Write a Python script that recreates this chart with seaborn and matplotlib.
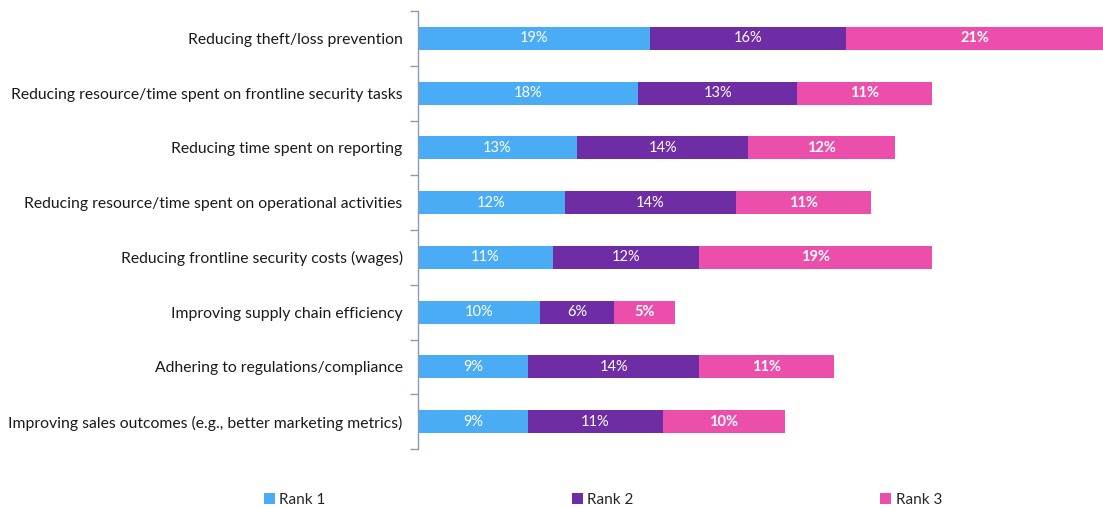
import matplotlib
matplotlib.use("Agg")
import matplotlib.pyplot as plt
from matplotlib.patches import Patch
import numpy as np
import pandas as pd
import seaborn as sns

categories = [
    "Reducing theft/loss prevention",
    "Reducing resource/time spent on frontline security tasks",
    "Reducing time spent on reporting",
    "Reducing resource/time spent on operational activities",
    "Reducing frontline security costs (wages)",
    "Improving supply chain efficiency",
    "Adhering to regulations/compliance",
    "Improving sales outcomes (e.g., better marketing metrics)",
]
rank1 = [19, 18, 13, 12, 11, 10, 9, 9]
rank2 = [16, 13, 14, 14, 12, 6, 14, 11]
rank3 = [21, 11, 12, 11, 19, 5, 11, 10]
series_names = ["Rank 1", "Rank 2", "Rank 3"]
colors = ["#4BACF6", "#6E2CA5", "#EB4FAB"]

sns.set_theme(style="white")
plt.rcParams["font.family"] = ["Lato", "DejaVu Sans"]

fig = plt.figure(figsize=(11.03, 5.08), dpi=100)
ax = fig.add_axes([418 / 1103, 59 / 508, 685 / 1103, 438 / 508])

r1 = np.array(rank1)
r2 = np.array(rank2)
r3 = np.array(rank3)
stacks = [r1 + r2 + r3, r1 + r2, r1]
stack_colors = [colors[2], colors[1], colors[0]]
for vals, col in zip(stacks, stack_colors):
    df = pd.DataFrame({"cat": categories, "val": vals})
    sns.barplot(data=df, y="cat", x="val", order=categories, color=col,
                width=0.42, saturation=1, orient="h", ax=ax, edgecolor="none")

# segment labels
for i in range(len(categories)):
    starts = [0, r1[i], r1[i] + r2[i]]
    for k, (s, v) in enumerate(zip(starts, [r1[i], r2[i], r3[i]])):
        ax.text(s + v / 2, i, f"{v}%", ha="center", va="center", color="white",
                fontsize=10.5, fontweight="bold" if k == 2 else "normal")

ax.set_xlim(0, 56)
ax.set_ylim(len(categories) - 0.5, -0.5)
ax.set_xlabel("")
ax.set_ylabel("")
ax.set_xticks([])
for side in ["top", "right", "bottom"]:
    ax.spines[side].set_visible(False)
ax.spines["left"].set_color("#8C9BB5")
ax.spines["left"].set_linewidth(1.0)
ax.tick_params(axis="y", which="major", length=0, pad=11, labelsize=11.3,
               labelcolor="#1a1a1a")
ax.set_yticks(np.arange(-0.5, len(categories), 1.0), minor=True)
ax.tick_params(axis="y", which="minor", length=6, width=1.0, color="#8C9BB5",
               direction="out", left=True)

handles = [Patch(facecolor=c, edgecolor="none") for c in colors]
fig.legend(handles, series_names, loc="center left", ncol=3, mode="expand",
           bbox_to_anchor=(258 / 1103, 8 / 508, 690 / 1103, 0.001),
           frameon=False, fontsize=11, handlelength=0.7, handleheight=0.7,
           handletextpad=0.3, borderaxespad=0)

fig.savefig("out.png", dpi=100)
